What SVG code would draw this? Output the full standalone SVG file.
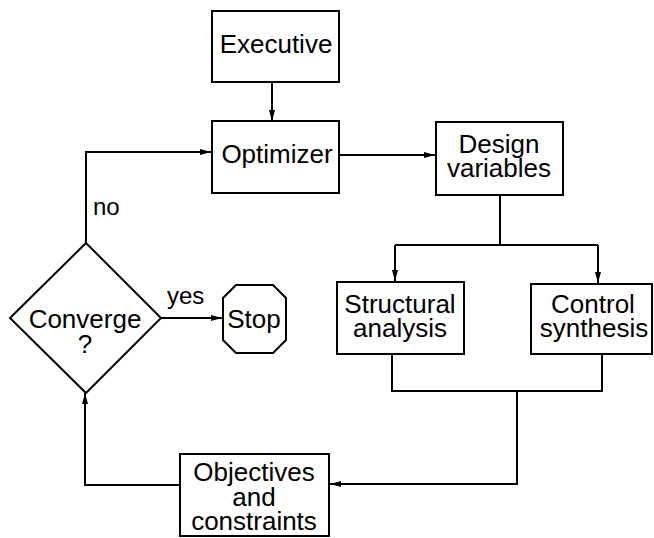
<svg xmlns="http://www.w3.org/2000/svg" width="654" height="538" viewBox="0 0 654 538">
<style>
.box{fill:#fff;stroke:#000;stroke-width:2}
.ln{fill:none;stroke:#000;stroke-width:2}
text{font-family:"Liberation Sans",Arial,sans-serif;font-size:26px;fill:#000;text-anchor:middle}
.lbl{font-size:24px;text-anchor:start}
</style>
<defs>
<marker id="ah" markerWidth="12" markerHeight="8" refX="11" refY="4" orient="auto" markerUnits="userSpaceOnUse">
<path d="M0,1 L11,4 L0,7 Z" fill="#000"/>
</marker>
</defs>
<rect width="654" height="538" fill="#fff"/>
<g id="connectors">
<path class="ln" d="M272,82 V121" marker-end="url(#ah)"/>
<path class="ln" d="M339,155 H435" marker-end="url(#ah)"/>
<path class="ln" d="M500,195 V245"/>
<path class="ln" d="M395,245 H598"/>
<path class="ln" d="M395,245 V281" marker-end="url(#ah)"/>
<path class="ln" d="M598,245 V283" marker-end="url(#ah)"/>
<path class="ln" d="M392,354 V391 H602 V354"/>
<path class="ln" d="M517,391 V484 H330" marker-end="url(#ah)"/>
<path class="ln" d="M180,485 H85 V393" marker-end="url(#ah)"/>
<path class="ln" d="M86,243 V152 H211" marker-end="url(#ah)"/>
<path class="ln" d="M161,318 H222" marker-end="url(#ah)"/>
<text class="lbl" x="93" y="215">no</text>
<text class="lbl" x="167" y="304">yes</text>
</g>
<g id="executive">
<rect class="box" x="212" y="11" width="127" height="71"/>
<text x="276" y="53">Executive</text>
</g>
<g id="optimizer">
<rect class="box" x="212" y="121" width="127" height="72"/>
<text x="277" y="163">Optimizer</text>
</g>
<g id="design">
<rect class="box" x="436" y="122" width="127" height="73"/>
<text x="499" y="153">Design</text>
<text x="499" y="177">variables</text>
</g>
<g id="structural">
<rect class="box" x="337" y="282" width="127" height="72"/>
<text x="400" y="313">Structural</text>
<text x="400" y="337">analysis</text>
</g>
<g id="control">
<rect class="box" x="531" y="284" width="121" height="70"/>
<text x="593" y="313">Control</text>
<text x="594" y="337">synthesis</text>
</g>
<g id="objectives">
<rect class="box" x="180" y="454" width="149" height="82"/>
<text x="254" y="481">Objectives</text>
<text x="254" y="506">and</text>
<text x="254" y="530">constraints</text>
</g>
<g id="converge">
<polygon class="box" points="86,243 161,318 86,393 10,318"/>
<text x="85" y="328">Converge</text>
<text x="85" y="353">?</text>
</g>
<g id="stop">
<polygon class="box" points="236,285 273,285 286,298 286,340 273,353 236,353 223,340 223,298"/>
<text x="254" y="328">Stop</text>
</g>
</svg>
